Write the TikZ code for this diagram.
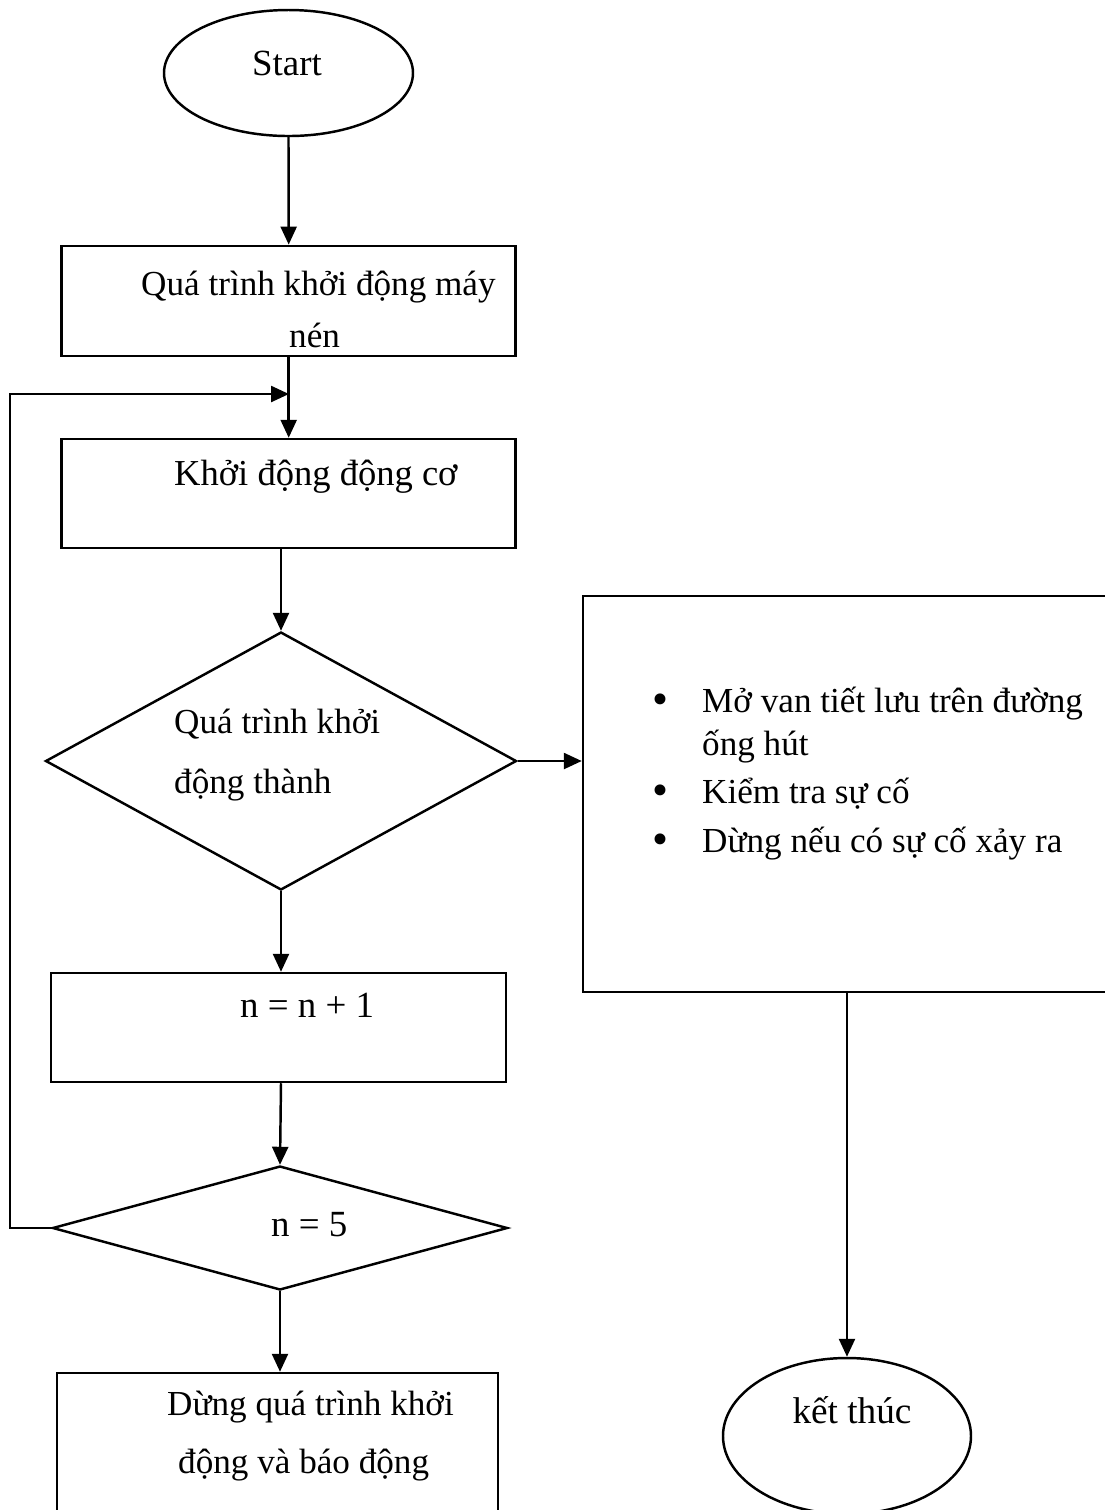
\documentclass[tikz,border=0pt]{standalone}
\usepackage{fontspec}
\setmainfont{Liberation Serif}
\usetikzlibrary{shapes.geometric,arrows.meta}

\begin{document}
\begin{tikzpicture}[
    x=0.1mm, y=-0.1mm,
    line width=0.7pt,
    every node/.style={font=\fontsize{10}{12}\selectfont},
    stepbox/.style={draw, rectangle, inner sep=0pt},
    decision/.style={draw, diamond, inner sep=0pt},
    terminal/.style={draw, ellipse, inner sep=0pt},
    txt/.style={inner sep=0pt, anchor=base west},
    flow/.style={-{Triangle[length=1.8mm,width=1.6mm]}}
  ]
  \useasboundingbox (0,0) rectangle (1105,1510);

  % Blocks (text is placed separately below)
  \node[terminal, minimum width=2.49cm, minimum height=1.26cm] (start) at (288.5,73) {};
  \node[stepbox, minimum width=4.54cm, minimum height=1.10cm] (compress) at (288.7,300.8) {};
  \node[stepbox, minimum width=4.54cm, minimum height=1.09cm] (motor) at (288.7,493.5) {};
  \node[decision, minimum width=4.71cm, minimum height=2.58cm] (check) at (281,761) {};
  \node[stepbox, minimum width=5.32cm, minimum height=3.96cm] (actions) at (849,794) {};
  \node[stepbox, minimum width=4.55cm, minimum height=1.09cm] (count) at (278.5,1027.5) {};
  \node[decision, minimum width=4.55cm, minimum height=1.24cm] (limit) at (280,1228) {};
  \node[stepbox, minimum width=4.41cm, minimum height=1.57cm] (alarm) at (277.5,1451.5) {};
  \node[terminal, minimum width=2.48cm, minimum height=1.56cm] (done) at (847,1436) {};

  % Labels
  \node[inner sep=0pt, anchor=base, font=\fontsize{10.5}{12}\selectfont] (lstart) at (287,75) {Start};
  \node[txt] (lcomp1) at (140,295) {Quá trình khởi động máy};
  \node[txt] (lcomp2) at (288,347) {nén};
  \node[txt, font=\fontsize{10.4}{12}\selectfont] (lmotor) at (173,485) {Khởi động động cơ};
  \node[txt] (lcheck1) at (173,733) {Quá trình khởi};
  \node[txt] (lcheck2) at (173,793) {động thành};
  \node[txt, font=\fontsize{10.5}{12}\selectfont] (lcount) at (239,1017) {n = n + 1};
  \node[txt, font=\fontsize{10.5}{12}\selectfont] (llimit) at (270,1236) {n = 5};
  \node[txt] (lalarm1) at (166,1415) {Dừng quá trình khởi};
  \node[txt] (lalarm2) at (177,1473) {động và báo động};
  \node[inner sep=0pt, anchor=base, font=\fontsize{10.6}{12}\selectfont] (ldone) at (852,1423) {kết thúc};

  % Bullet list in the right box
  \foreach \y/\item in {712/Mở van tiết lưu trên đường, 803/Kiểm tra sự cố, 852/Dừng nếu có sự cố xảy ra} {
    \node[inner sep=0pt, anchor=base, font=\fontsize{13}{13}\selectfont] (dot\y) at (660,\y+2) {\textbullet};
    \node[txt] (item\y) at (701,\y) {\item};
  }
  \node[txt] (item755) at (701,755) {ống hút};

  % Connectors
  \draw[flow] (start.south) -- (compress.north);
  \draw[flow] (compress.south) -- (motor.north);
  \draw[flow] (motor.south -| check.north) -- (check.north);
  \draw[flow] (check.east) -- (check.east -| actions.west);
  \draw[flow] (check.south) -- (check.south |- count.north);
  \draw[flow] (check.south |- count.south) -- (limit.north);
  \draw[flow] (limit.south) -- (limit.south |- alarm.north);
  \draw[flow] (actions.south -| done.north) -- (done.north);

  % Retry loop back above the motor block
  \coordinate (rail) at (10,1228);
  \coordinate (join) at (289,394);
  \draw[flow] (limit.west) -- (rail) |- (join);

\end{tikzpicture}
\end{document}
